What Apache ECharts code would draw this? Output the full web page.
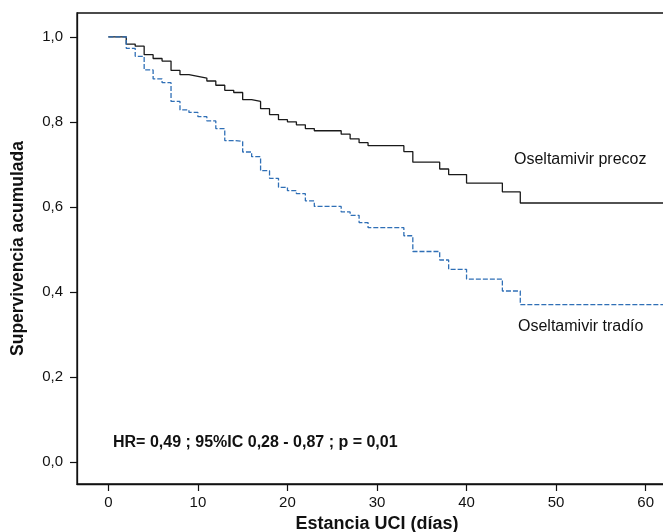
<!DOCTYPE html>
<html>
<head>
<meta charset="utf-8">
<script src="https://cdn.jsdelivr.net/npm/echarts@6/dist/echarts.min.js"></script>
<style>
  html, body { margin: 0; padding: 0; background: #fff; }
  #chart { width: 663px; height: 532px; }
</style>
</head>
<body>
<div id="chart"></div>
<script>
// Kaplan-Meier steps (time in days, cumulative survival)
const precozTimes = [0, 2, 3, 4, 5, 6, 7, 8, 9, 10, 11, 12, 13, 14, 15, 16, 17, 18, 19, 20, 21, 22, 23, 26, 27, 28, 29, 33, 34, 37, 38, 40, 44, 46, 63.5]
const precozSurv = [1.0, 0.983, 0.978, 0.958, 0.949, 0.943, 0.921, 0.911, 0.907, 0.903, 0.896, 0.886, 0.874, 0.869, 0.852, 0.848, 0.831, 0.817, 0.805, 0.8, 0.793, 0.784, 0.779, 0.771, 0.76, 0.751, 0.744, 0.73, 0.705, 0.689, 0.676, 0.656, 0.635, 0.609, 0.609]

const tardioTimes = [0, 2, 3, 4, 5, 6, 7, 8, 9, 10, 11, 12, 13, 14, 15, 16, 17, 18, 19, 20, 21, 22, 23, 26, 27, 28, 29, 33, 34, 37, 38, 40, 44, 46, 63.5]
const tardioSurv = [1.0, 0.973, 0.954, 0.922, 0.901, 0.892, 0.848, 0.828, 0.822, 0.812, 0.802, 0.784, 0.756, 0.754, 0.729, 0.718, 0.685, 0.667, 0.646, 0.638, 0.631, 0.614, 0.601, 0.588, 0.58, 0.563, 0.551, 0.532, 0.495, 0.475, 0.453, 0.43, 0.402, 0.37, 0.37]

const xTicks = [0, 10, 20, 30, 40, 50, 60]
const yTicks = [0, 0.2, 0.4, 0.6, 0.8, 1.0]

const FONT = '"Liberation Sans", Arial, Helvetica, sans-serif'

function pairs(t, s) {
  return t.map((x, i) => [x, s[i]])
}

const chart = echarts.init(document.getElementById("chart"), null, { renderer: "canvas" })

chart.setOption({
  animation: false,
  backgroundColor: "#fff",
  // plot box runs past the right edge of the picture (it is cropped there)
  grid: {
    left: 77, top: 13, width: 600, height: 471,
    outerBoundsMode: "none",
    containLabel: false,
    show: true, borderColor: "#111", borderWidth: 1.3, backgroundColor: "transparent"
  },
  xAxis: {
    type: "value",
    min: -3.5,
    max: 63.5,
    name: "Estancia UCI (días)",
    nameLocation: "middle",
    nameGap: 31,
    nameTextStyle: { fontFamily: FONT, fontSize: 18, fontWeight: "bold", color: "#111" },
    axisLine: { show: true, onZero: false, lineStyle: { color: "#111", width: 1.3 } },
    axisTick: { show: true, customValues: xTicks, length: 7, lineStyle: { color: "#111", width: 1.2 } },
    axisLabel: {
      customValues: xTicks, margin: 11,
      fontFamily: FONT, fontSize: 15, color: "#111"
    },
    splitLine: { show: false }
  },
  yAxis: {
    type: "value",
    min: -0.052,
    max: 1.056,
    name: "Supervivencia acumulada",
    nameLocation: "middle",
    nameGap: 50,
    nameTextStyle: { fontFamily: FONT, fontSize: 17.5, fontWeight: "bold", color: "#111" },
    axisLine: { show: true, onZero: false, lineStyle: { color: "#111", width: 1.3 } },
    axisTick: { show: true, customValues: yTicks, length: 7, lineStyle: { color: "#111", width: 1.2 } },
    axisLabel: {
      customValues: yTicks, margin: 14,
      fontFamily: FONT, fontSize: 15, color: "#111",
      formatter: v => v.toFixed(1).replace(".", ",")
    },
    splitLine: { show: false }
  },
  series: [
    {
      name: "Oseltamivir precoz",
      type: "line",
      step: "end",
      symbol: "none",
      data: pairs(precozTimes, precozSurv),
      lineStyle: { color: "#1a1a1a", width: 1.3 }
    },
    {
      name: "Oseltamivir tradío",
      type: "line",
      step: "end",
      symbol: "none",
      data: pairs(tardioTimes, tardioSurv),
      lineStyle: { color: "#2f6fb6", width: 1.3, type: [5, 2] }
    }
  ],
  graphic: [
    {
      type: "text", left: 514, top: 152,
      style: { text: "Oseltamivir precoz", font: "16px " + FONT, fill: "#111" }
    },
    {
      type: "text", left: 518, top: 319,
      style: { text: "Oseltamivir tradío", font: "16px " + FONT, fill: "#111" }
    },
    {
      type: "text", left: 113, top: 435,
      style: { text: "HR= 0,49 ; 95%IC 0,28 - 0,87 ; p = 0,01", font: "bold 16px " + FONT, fill: "#111" }
    }
  ]
})
</script>
</body>
</html>
